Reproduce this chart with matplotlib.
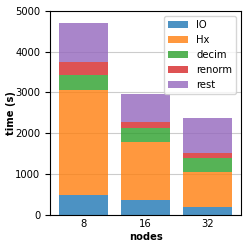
import matplotlib
matplotlib.use("Agg")
import matplotlib.pyplot as plt
import numpy as np

nodes = ["8", "16", "32"]
io = [475, 344, 180]
hx = [2582, 1443, 861]
decim = [369, 336, 352]
renorm = [320, 156, 107]
rest = [951, 680, 861]

series = [("IO", io, "#1f77b4"), ("Hx", hx, "#ff7f0e"), ("decim", decim, "#2ca02c"),
          ("renorm", renorm, "#d62728"), ("rest", rest, "#9467bd")]

fs = 7.2
fig = plt.figure(figsize=(2.49, 2.49), dpi=100)
ax = fig.add_axes([50/249, 1-214.5/249, 191/249, 203.5/249])
x = np.arange(len(nodes))
bottom = np.zeros(len(nodes))
for name, vals, c in series:
    ax.bar(x, vals, 0.8, bottom=bottom, color=c, alpha=0.8, label=name, zorder=2)
    bottom += np.array(vals)
ax.set_xticks(x)
ax.set_xticklabels(nodes, fontsize=fs)
ax.set_ylim(0, 5000)
ax.set_yticks([0, 1000, 2000, 3000, 4000, 5000])
ax.tick_params(labelsize=fs)
ax.tick_params(axis="x", length=0)
ax.yaxis.grid(True, color="#cccccc", linewidth=0.8, zorder=0)
ax.set_axisbelow(True)
ax.set_xlabel("nodes", fontsize=fs, fontweight="bold", labelpad=2)
ax.set_ylabel("time (s)", fontsize=fs, fontweight="bold", labelpad=-0.5)
ax.legend(fontsize=fs, loc="upper right")
fig.savefig("out.png", dpi=100)
